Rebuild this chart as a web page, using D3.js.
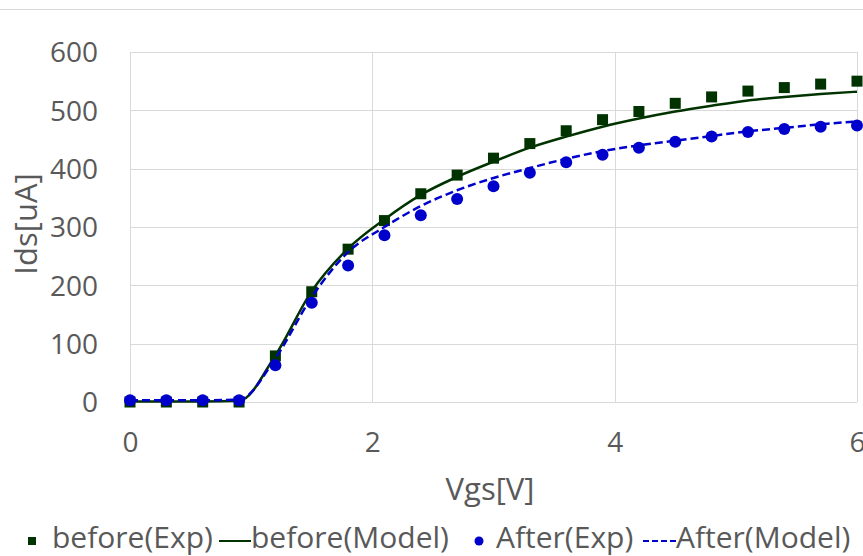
<!DOCTYPE html>
<html>
<head>
<meta charset="utf-8">
<script src="https://cdn.jsdelivr.net/npm/d3@7"></script>
<style>
  body { margin: 0; background: #fff; }
  svg text { font-family: "Open Sans", sans-serif; fill: #595959; }
</style>
</head>
<body>
<div id="chart"></div>
<script>
// Vgs sweep, 0.3 V steps
const vgs = [0, 0.3, 0.6, 0.9, 1.2, 1.5, 1.8, 2.1, 2.4, 2.7, 3.0, 3.3, 3.6, 3.9, 4.2, 4.5, 4.8, 5.1, 5.4, 5.7, 6.0];
const beforeExp   = [0, 0, 0, 0, 79, 189, 262, 311, 357, 389, 418, 443, 465, 484, 498, 512, 523, 533, 539, 545, 550];
const beforeModel = [1, 1, 1, 2, 80, 190, 263, 313, 355, 386, 412, 436, 455, 472, 486, 498, 508, 517, 523, 528, 532];
const afterExp    = [3, 3, 3, 3, 63, 170, 234, 286, 320, 348, 370, 393, 411, 424, 436, 446, 455, 463, 468, 472, 474];
const afterModel  = [3, 3, 3, 4, 75, 180, 257, 300, 336, 363, 384, 401, 417, 430, 440, 448, 456, 464, 470, 476, 481];

const xTicks = [0, 2, 4, 6];
const yTicks = [0, 100, 200, 300, 400, 500, 600];

const green = "#003300";
const blue = "#0000cc";

const width = 863;
const height = 556;
const margin = { top: 52, right: 6, bottom: 154, left: 130 };

const svg = d3.select("#chart")
  .append("svg")
  .attr("width", width)
  .attr("height", height);

// chart frame top edge
svg.append("line")
  .attr("x1", 0).attr("x2", width)
  .attr("y1", 9.5).attr("y2", 9.5)
  .attr("stroke", "#d9d9d9");

const x = d3.scaleLinear().domain([0, 6]).range([margin.left, width - margin.right]);
const y = d3.scaleLinear().domain([0, 600]).range([height - margin.bottom, margin.top]);

// gridlines
svg.append("g")
  .selectAll("line")
  .data(yTicks)
  .join("line")
  .attr("x1", x(0)).attr("x2", x(6))
  .attr("y1", d => Math.round(y(d)) + 0.5).attr("y2", d => Math.round(y(d)) + 0.5)
  .attr("stroke", "#d9d9d9");

svg.append("g")
  .selectAll("line")
  .data(xTicks)
  .join("line")
  .attr("x1", d => Math.round(x(d)) + 0.5).attr("x2", d => Math.round(x(d)) + 0.5)
  .attr("y1", y(0)).attr("y2", y(600))
  .attr("stroke", "#d9d9d9");

// axes (labels only)
const yAxis = svg.append("g")
  .attr("transform", `translate(${margin.left - 32},0)`)
  .call(d3.axisLeft(y).tickValues(yTicks).tickSize(0).tickPadding(0));
yAxis.select(".domain").remove();
yAxis.selectAll("text").style("font-size", "28px").attr("dy", "0.35em").attr("fill", "#595959");

const xAxis = svg.append("g")
  .attr("transform", `translate(0,${y(0) + 30})`)
  .call(d3.axisBottom(x).tickValues(xTicks).tickFormat(d3.format("d")).tickSize(0).tickPadding(0));
xAxis.select(".domain").remove();
xAxis.selectAll("text").style("font-size", "28px").attr("dy", "0.71em").attr("fill", "#595959");

// axis titles
svg.append("text")
  .attr("x", 490)
  .attr("y", 500)
  .attr("text-anchor", "middle")
  .style("font-size", "31px")
  .text("Vgs[V]");

svg.append("text")
  .attr("transform", `translate(37,224) rotate(-90)`)
  .attr("text-anchor", "middle")
  .style("font-size", "31px")
  .text("Ids[uA]");

const pts = arr => vgs.map((v, i) => [v, arr[i]]);
const line = d3.line().x(d => x(d[0])).y(d => y(d[1])).curve(d3.curveMonotoneX);

// series, in legend order
svg.append("g")
  .selectAll("rect")
  .data(pts(beforeExp))
  .join("rect")
  .attr("x", d => x(d[0]) - 5.5)
  .attr("y", d => y(d[1]) - 5.5)
  .attr("width", 11).attr("height", 11)
  .attr("fill", green);

svg.append("path")
  .datum(pts(beforeModel))
  .attr("d", line)
  .attr("fill", "none")
  .attr("stroke", green)
  .attr("stroke-width", 2.5);

svg.append("g")
  .selectAll("circle")
  .data(pts(afterExp))
  .join("circle")
  .attr("cx", d => x(d[0]))
  .attr("cy", d => y(d[1]))
  .attr("r", 6)
  .attr("fill", blue);

svg.append("path")
  .datum(pts(afterModel))
  .attr("d", line)
  .attr("fill", "none")
  .attr("stroke", blue)
  .attr("stroke-width", 2.5)
  .attr("stroke-dasharray", "8,4");

// legend
const legY = 541;
const legBase = 548;
const leg = svg.append("g").style("font-size", "30px");

leg.append("rect").attr("x", 28).attr("y", legY - 4).attr("width", 8).attr("height", 8).attr("fill", green);
leg.append("text").attr("x", 52).attr("y", legBase).text("before(Exp)");

leg.append("line").attr("x1", 219).attr("x2", 251).attr("y1", legY).attr("y2", legY)
  .attr("stroke", green).attr("stroke-width", 2);
leg.append("text").attr("x", 251).attr("y", legBase).text("before(Model)");

leg.append("circle").attr("cx", 479).attr("cy", legY).attr("r", 4.5).attr("fill", blue);
leg.append("text").attr("x", 496).attr("y", legBase).text("After(Exp)");

leg.append("line").attr("x1", 643).attr("x2", 676).attr("y1", legY).attr("y2", legY)
  .attr("stroke", blue).attr("stroke-width", 2).attr("stroke-dasharray", "6,3");
leg.append("text").attr("x", 676).attr("y", legBase).text("After(Model)");
</script>
</body>
</html>
